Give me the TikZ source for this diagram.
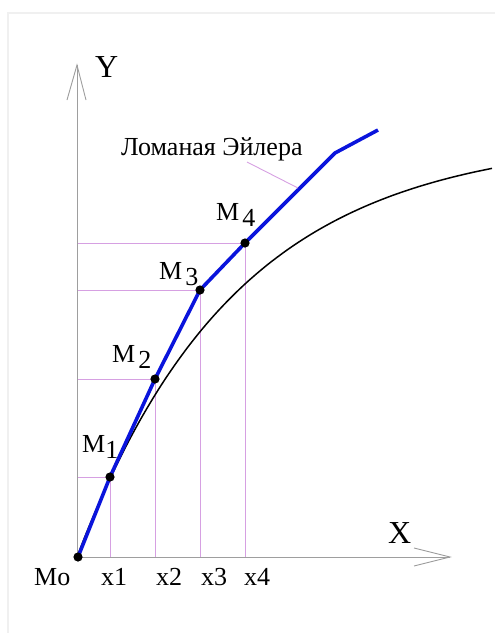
\documentclass[tikz,border=0pt]{standalone}
\usepackage{fontspec}
\setmainfont{Liberation Serif}
\definecolor{guidepink}{RGB}{214,160,226}
\definecolor{eulerblue}{RGB}{10,20,220}
\begin{document}
\begin{tikzpicture}[x=1pt,y=-1pt,
  axisline/.style={draw=black!38,line width=0.9pt},
  guide/.style={draw=guidepink,line width=0.9pt},
  euler/.style={draw=eulerblue,line width=3.6pt,line join=round},
  curveline/.style={draw=black,line width=1.5pt},
  dotfill/.style={fill=black},
  lbl/.style={anchor=base west,inner sep=0pt,font=\fontsize{26}{26}\selectfont},
  axlbl/.style={anchor=base west,inner sep=0pt,font=\fontsize{32}{32}\selectfont}]
\useasboundingbox (0,0) rectangle (495,633);
\draw[black!6,line width=2pt] (8,633) -- (8,13) -- (495,13);
% coordinates
\coordinate (O) at (77,557);
\coordinate (Ytip) at (77,65);
\coordinate (Xtip) at (450,557);
\coordinate (M0) at (78,557);
\coordinate (M1) at (110,477);
\coordinate (M2) at (155,379);
\coordinate (M3) at (200,290);
\coordinate (M4) at (245,243);
\coordinate (Bend) at (335,153);
\coordinate (End) at (378,130);
\coordinate (LeadA) at (247,162);
\coordinate (LeadB) at (298,188);
% guide lines
\foreach \p in {M1,M2,M3,M4}{
  \draw[guide] (O |- \p) -- (\p) -- (\p |- O);
}
% axes
\draw[axisline] (O) -- (Ytip);
\draw[axisline] (67,100) -- (Ytip) -- (86,100);
\draw[axisline] (O) -- (Xtip);
\draw[axisline] (414,548) -- (Xtip) -- (414,566);
% exact curve
\draw[curveline,domain=77:492,samples=80,smooth] plot (\x,{557-420*(1-exp(-(\x-77)/160))});
% Euler polyline
\draw[euler] (M0) -- (M1) -- (M2) -- (M3) -- (M4) -- (Bend) -- (End);
% points
\foreach \p in {M0,M1,M2,M3,M4}{
  \fill[dotfill] (\p) circle (4.6);
}
% leader
\draw[guide] (LeadA) -- (LeadB);
\node[lbl] (lead) at (121,155) {Ломаная Эйлера};
% labels
\node[axlbl] (Ylab) at (95,77) {Y};
\node[axlbl] (Xlab) at (388,543) {X};
\node[lbl] (Mo) at (34,585) {Mo};
\node[lbl] (x1) at (101,585) {x1};
\node[lbl] (x2) at (156,585) {x2};
\node[lbl] (x3) at (201,585) {x3};
\node[lbl] (x4) at (244,585) {x4};
\node[lbl] (L1) at (82,452) {M\raisebox{-6pt}{1}};
\node[lbl] (L2) at (112,362) {M\hspace{3pt}\raisebox{-6pt}{2}};
\node[lbl] (L3) at (159,279) {M\hspace{3pt}\raisebox{-6pt}{3}};
\node[lbl] (L4) at (216,220) {M\hspace{3pt}\raisebox{-6pt}{4}};
\end{tikzpicture}
\end{document}
